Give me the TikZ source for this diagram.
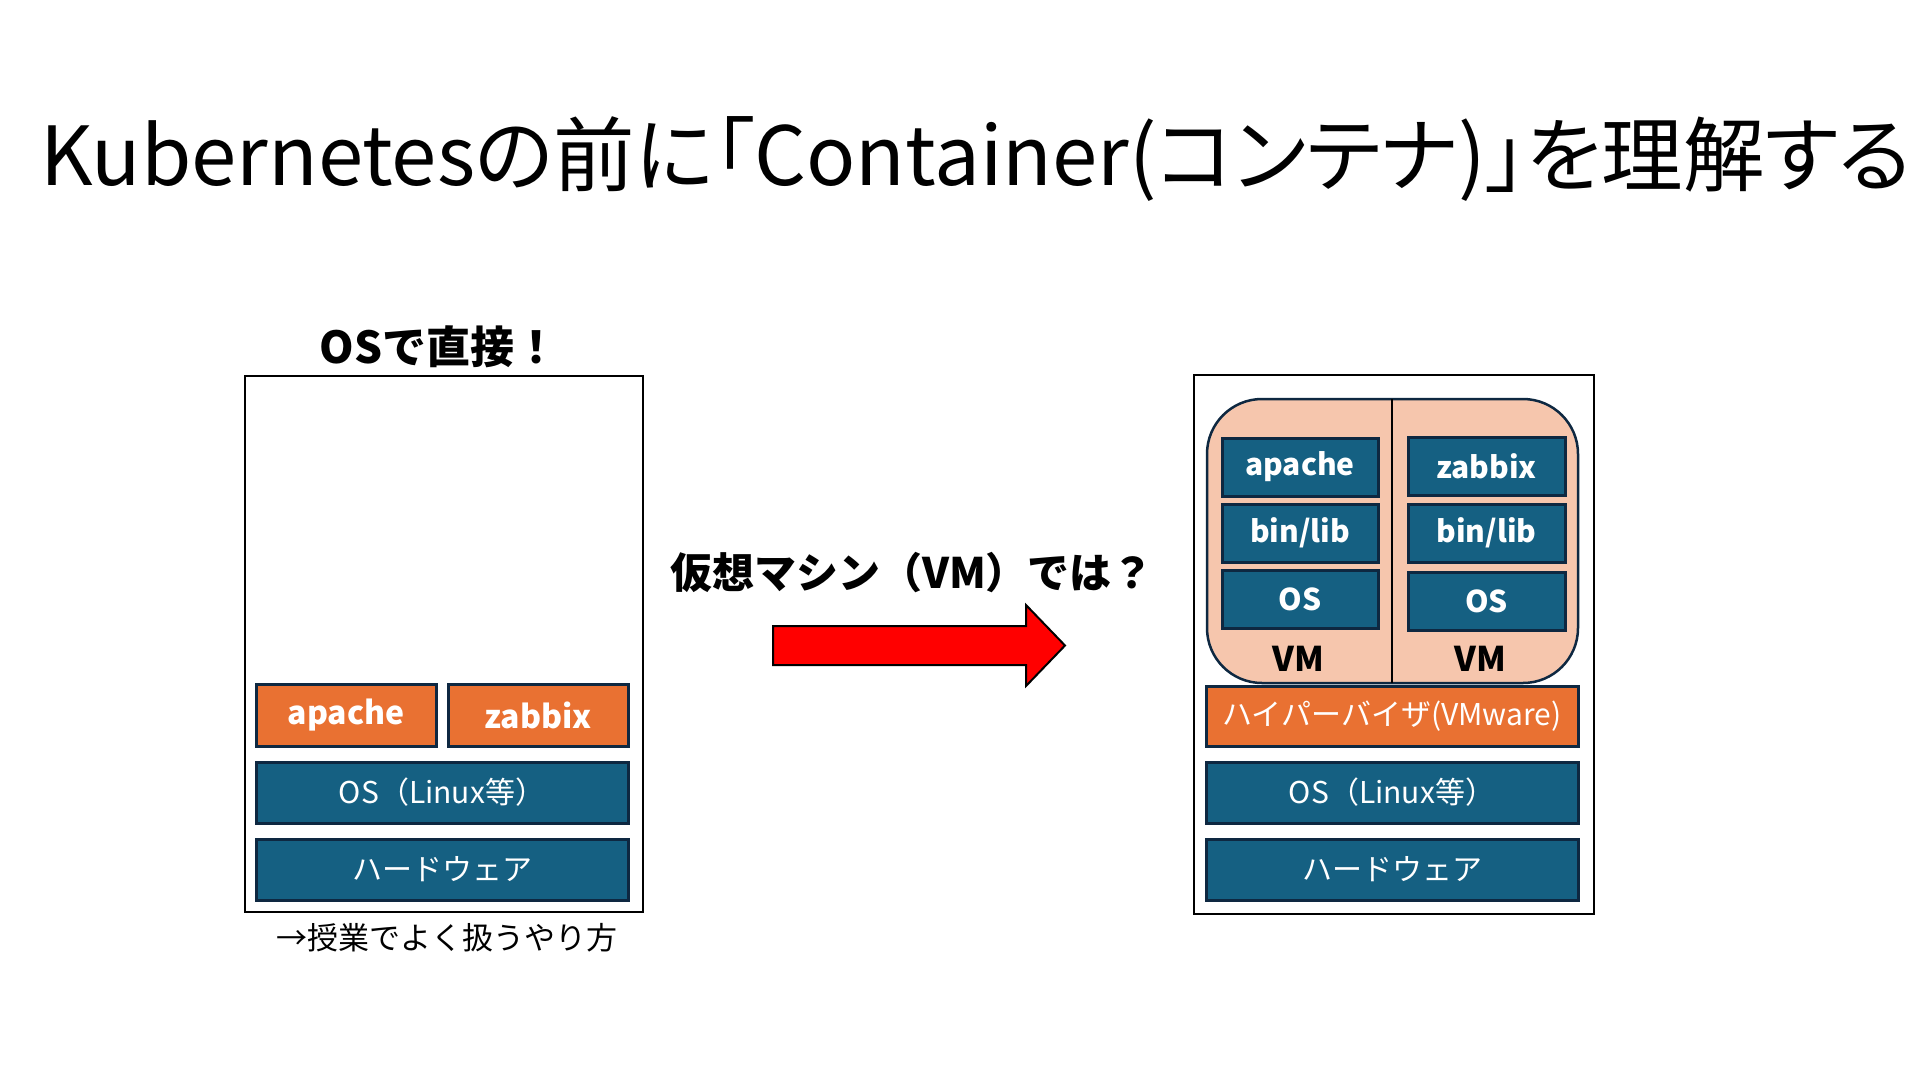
\documentclass[tikz,border=0pt]{standalone}
\usepackage{fontspec}
\setmainfont{Noto Sans CJK JP}
\definecolor{acc1}{HTML}{156082}
\definecolor{acc2}{HTML}{E97132}
\definecolor{dkb}{HTML}{0E2841}
\definecolor{peach}{HTML}{F6C6AD}
\tikzset{
  layer/.style={draw=dkb, line width=3pt, fill=acc1, text=white, inner sep=0pt, font=\fontsize{30}{34}\selectfont},
  applayer/.style={layer, fill=acc2, font=\fontsize{32}{34}\selectfont\bfseries},
  vmlayer/.style={layer, font=\fontsize{30}{34}\selectfont\bfseries},
  frame/.style={draw=black, line width=2.5pt, fill=white},
  lbl/.style={inner sep=0pt, text=black},
}
\begin{document}
\begin{tikzpicture}[x=1pt,y=-1pt]
\useasboundingbox (0,0) rectangle (1920,1080);
\fill[white] (0,0) rectangle (1920,1080);

% title
\node[lbl, font=\fontsize{81.5}{86}\selectfont\addfontfeature{RawFeature=+palt}] (title) at (976,159) {Kubernetesの前に「Container(コンテナ)」を理解する};

% left stack
\node[lbl, font=\fontsize{44}{48}\selectfont\bfseries] (ltitle) at (439,347) {OSで直接！};
\draw[frame] (245,376) rectangle (643,912);
\node[applayer, minimum width=180pt, minimum height=62pt] (lapache) at (346,715) {apache};
\node[applayer, minimum width=180pt, minimum height=62pt] (lzabbix) at (538,715) {zabbix};
\node[layer, minimum width=372pt, minimum height=61pt] (los) at (442,792.5) {OS（Linux等）};
\node[layer, minimum width=372pt, minimum height=61pt] (lhw) at (442,869.5) {ハードウェア};
\node[lbl, font=\fontsize{31}{34}\selectfont] (lcap) at (447,938) {→授業でよく扱うやり方};

% middle
\node[lbl, font=\fontsize{42}{46}\selectfont\bfseries] (mq) at (912,573) {仮想マシン（VM）では？};
\draw[fill=red, draw=black, line width=2pt, line join=miter]
  (773,626) -- (1026,626) -- (1026,605) -- (1065,645.5) -- (1026,686) -- (1026,665) -- (773,665) -- cycle;

% right stack
\draw[frame] (1194,375) rectangle (1594,914);
\draw[fill=peach, draw=dkb, line width=2.5pt, rounded corners=55pt] (1207,399) rectangle (1578,683);
\coordinate (divtop) at (1392,399);
\coordinate (divbot) at (1392,683);
\draw[black, line width=2pt] (divtop) -- (divbot);

\node[vmlayer, minimum width=156pt, minimum height=58pt] (v1app) at (1300,467) {apache};
\node[vmlayer, minimum width=156pt, minimum height=58pt] (v1bin) at (1300,533) {bin/lib};
\node[vmlayer, minimum width=156pt, minimum height=58pt] (v1os) at (1300,599.5) {OS};
\node[vmlayer, minimum width=157pt, minimum height=58pt] (v2app) at (1486.5,466) {zabbix};
\node[vmlayer, minimum width=157pt, minimum height=58pt] (v2bin) at (1486.5,533) {bin/lib};
\node[vmlayer, minimum width=157pt, minimum height=58pt] (v2os) at (1486.5,601) {OS};
\node[lbl, font=\fontsize{34}{38}\selectfont\bfseries] (vm1) at (1298,659) {VM};
\node[lbl, font=\fontsize{34}{38}\selectfont\bfseries] (vm2) at (1480,659) {VM};

\node[layer, fill=acc2, minimum width=372pt, minimum height=60pt, font=\fontsize{30}{34}\selectfont] (hyp) at (1392,716) {ハイパーバイザ(VMware)};
\node[layer, minimum width=372pt, minimum height=61pt] (ros) at (1392,792.5) {OS（Linux等）};
\node[layer, minimum width=372pt, minimum height=61pt] (rhw) at (1392,869.5) {ハードウェア};
\end{tikzpicture}
\end{document}
